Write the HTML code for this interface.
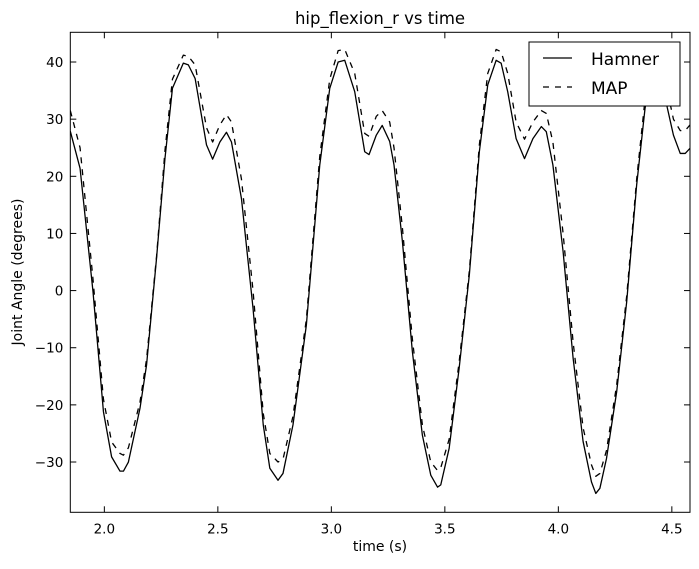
<!DOCTYPE html>
<html><head><meta charset="utf-8"><style>
html,body{margin:0;padding:0;background:#fff;}
svg text{font-family:"DejaVu Sans","Liberation Sans",sans-serif;fill:#000;}
</style></head><body>
<svg id="chart" width="699" height="564" xmlns="http://www.w3.org/2000/svg">
<rect width="699" height="564" fill="#fff"/>
<g id="plot"></g>
</svg>
<script>
const times = [1.85,1.893,1.95,1.996,2.032,2.069,2.084,2.106,2.157,2.186,2.23,2.267,2.30,2.348,2.37,2.40,2.45,2.477,2.509,2.538,2.56,2.604,2.655,2.70,2.729,2.765,2.787,2.831,2.89,2.949,2.993,3.03,3.059,3.103,3.147,3.166,3.198,3.224,3.257,3.276,3.313,3.357,3.401,3.438,3.468,3.482,3.519,3.563,3.608,3.652,3.689,3.726,3.748,3.777,3.814,3.851,3.888,3.925,3.947,3.976,4.021,4.065,4.109,4.146,4.165,4.183,4.212,4.257,4.301,4.345,4.382,4.42,4.45,4.48,4.507,4.537,4.559,4.58];
const hamner = [27.9,21.4,-0.2,-21.2,-29.1,-31.6,-31.6,-30,-20.6,-13,5.7,23.1,35.4,39.8,39.5,37.1,25.5,23,26,27.7,26,16.1,-3.1,-23.5,-31.1,-33.2,-32,-23.5,-6,22,35.4,40,40.3,34.8,24.3,23.8,27.2,28.9,26.1,22,8.6,-10.7,-25.3,-32.3,-34.4,-34,-27.6,-13.6,2.8,24.3,36,40.3,39.8,34.8,26.6,23.1,26.6,28.7,27.8,22,6.8,-11.8,-26.4,-33.5,-35.5,-34.6,-29.4,-17.7,-2,18.5,31.9,39.5,38,32,27.2,24,24,24.9];
const mapVals = [31.5,25,2,-19,-26.5,-28.5,-28.8,-27.5,-19.5,-12,6,24.5,37,41.2,41,39.5,28.5,26,29,30.8,29.5,19.5,0,-21.5,-28.5,-30,-29.5,-22,-5,23.5,37,42,42.2,38,27.5,27,30.5,31.5,29.5,25,11,-8.5,-23.5,-30,-31.5,-31,-26,-12.5,3.5,25.5,38,42.2,41.8,38,29.5,26.5,29.5,31.5,31,26,10,-9,-24,-30.5,-32.5,-32,-28,-16.5,-1,19.5,33.5,41,40.5,35,30,28,28,29];
const xTicks = [2.0,2.5,3.0,3.5,4.0,4.5];
const xTickLabels = ["2.0","2.5","3.0","3.5","4.0","4.5"];
const yTicks = [-30,-20,-10,0,10,20,30,40];
const yTickLabels = ["\u221230","\u221220","\u221210","0","10","20","30","40"];

const L=70.3,R=690,T=32.3,B=512.3;
const xMin=1.85,xMax=4.58,yMin=-38.8,yMax=45.2;
const xs=v=>L+(v-xMin)/(xMax-xMin)*(R-L);
const ys=v=>B-(v-yMin)/(yMax-yMin)*(B-T);
const NS="http://www.w3.org/2000/svg";
const g=document.getElementById('plot');
function mk(tag,attrs){const e=document.createElementNS(NS,tag);for(const k in attrs)e.setAttribute(k,attrs[k]);g.appendChild(e);return e;}

const defs=mk('defs',{});
const cp=document.createElementNS(NS,'clipPath');cp.setAttribute('id','clip');
const cr=document.createElementNS(NS,'rect');cr.setAttribute('x',L);cr.setAttribute('y',T);cr.setAttribute('width',R-L);cr.setAttribute('height',B-T);
cp.appendChild(cr);defs.appendChild(cp);

function pathD(vals){return vals.map((v,i)=>(i?'L':'M')+xs(times[i]).toFixed(2)+','+ys(v).toFixed(2)).join(' ');}
const lh=mk('path',{d:pathD(hamner),fill:'none',stroke:'#000','stroke-width':1.3,'stroke-linejoin':'round','clip-path':'url(#clip)'});


const lm=mk('path',{d:pathD(mapVals),fill:'none',stroke:'#000','stroke-width':1.3,'stroke-dasharray':'6,6','stroke-linejoin':'round','clip-path':'url(#clip)'});



const fr=mk('rect',{x:L,y:T,width:R-L,height:B-T,fill:'none',stroke:'#000','stroke-width':1});



xTicks.forEach((v,i)=>{
  const x=xs(v);
  mk('line',{x1:x,x2:x,y1:B,y2:B-6,stroke:'#000'});
  mk('line',{x1:x,x2:x,y1:T,y2:T+6,stroke:'#000'});
  const t=mk('text',{x:x,y:B+21,'text-anchor':'middle','font-size':13.5});
  t.textContent=xTickLabels[i];
  
  
});
yTicks.forEach((v,i)=>{
  const y=ys(v);
  mk('line',{x1:L,x2:L+6,y1:y,y2:y,stroke:'#000'});
  mk('line',{x1:R,x2:R-6,y1:y,y2:y,stroke:'#000'});
  const t=mk('text',{x:L-7,y:y+5,'text-anchor':'end','font-size':13.5});
  t.textContent=yTickLabels[i];
  
  
});

const title=mk('text',{x:380,y:24,'text-anchor':'middle','font-size':16.5});
title.textContent='hip_flexion_r vs time';


const xl=mk('text',{x:380,y:551,'text-anchor':'middle','font-size':14});
xl.textContent='time (s)';


const yl=mk('text',{x:0,y:0,'text-anchor':'middle','font-size':14,transform:'translate(22,272) rotate(-90)'});
yl.textContent='Joint Angle (degrees)';



const lg=mk('rect',{x:529,y:42,width:151,height:64,fill:'#fff',stroke:'#000','stroke-width':1});


mk('line',{x1:543,x2:572,y1:58,y2:58,stroke:'#000','stroke-width':1.3});
mk('line',{x1:543,x2:572,y1:87,y2:87,stroke:'#000','stroke-width':1.3,'stroke-dasharray':'6,6'});
const le1=mk('text',{x:591,y:65,'font-size':17});
le1.textContent='Hamner';


const le2=mk('text',{x:591,y:94,'font-size':17});
le2.textContent='MAP';


</script>
</body></html>
